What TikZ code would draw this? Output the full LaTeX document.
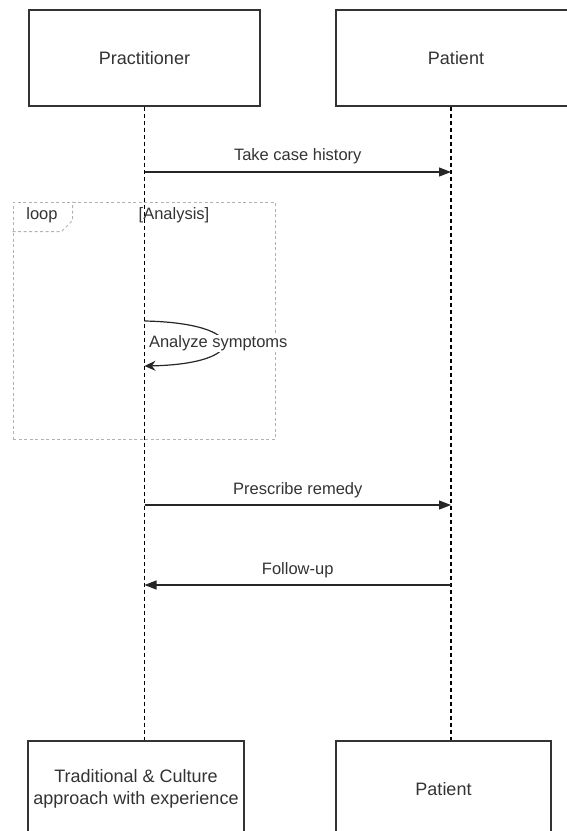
\documentclass[tikz,border=0pt]{standalone}
\usepackage{fontspec}
\setmainfont{Liberation Sans}
\usetikzlibrary{arrows.meta}
\tikzset{
    actorbox/.style={draw=black!80, line width=1.2pt, fill=white, text=black!80, align=center, font=\fontsize{18}{21.5}\selectfont},
    lifeline/.style={draw=black, line width=1.2pt, dash pattern=on 4pt off 3pt},
    msg/.style={draw=black!85, line width=1.2pt, -{Triangle[length=12pt,width=9pt]}},
    selfmsg/.style={draw=black!85, line width=1.2pt, -{Stealth[length=11pt,width=10pt]}},
    msglabel/.style={text=black!80, font=\fontsize{16.5}{19}\selectfont, inner sep=1pt},
    loopframe/.style={draw=gray!60, line width=0.9pt, dash pattern=on 3pt off 2.5pt}
}
\begin{document}
\begin{tikzpicture}[x=1pt,y=-1pt]
                    \useasboundingbox (0,0) rectangle (566,831);
                    \node[actorbox, minimum width=231pt, minimum height=96pt] (prac) at (144.5,58) {Practitioner};
                    \node[actorbox, minimum width=240pt, minimum height=96pt] (pat) at (456,58) {Patient};
                    \node[actorbox, minimum width=216pt, minimum height=96pt] (pracend) at (136,789) {Traditional \& Culture\\approach with experience};
                    \node[actorbox, minimum width=215pt, minimum height=96pt] (patend) at (443.5,789) {Patient};
                    \coordinate (pl) at ([xshift=-5pt]pat.south);
                    \draw[lifeline] (prac.south) -- (prac.south |- pracend.north);
                    \draw[lifeline] (pl) -- (pl |- patend.north);
                    \node[loopframe, minimum width=262pt, minimum height=237pt] (loop) at (144,320.5) {};
                    \draw[loopframe] ([yshift=-30pt]loop.north west) -- ++(49,0) -- ++(11,-11) -- ++(0,-19);
                    \node[msglabel] (looplabel) at (42,215) {loop};
                    \node[msglabel] (guard) at (174,215) {[Analysis]};
                    \coordinate (c1) at (prac.south |- 0,172);
                    \coordinate (c2) at (pl |- 0,172);
                    \draw[msg] (c1) -- node[msglabel, midway, above=6pt] (take) {Take case history} (c2);
                    \coordinate (s1) at (prac.south |- 0,321);
                    \coordinate (s2) at (prac.south |- 0,366);
                    \draw[selfmsg] (s1) .. controls +(105,2) and +(105,-2) .. node[msglabel, pos=0.5, xshift=-5pt, fill=white] (analyze) {Analyze symptoms} (s2);
                    \coordinate (p1) at (prac.south |- 0,505);
                    \coordinate (p2) at (pl |- 0,505);
                    \draw[msg] (p1) -- node[msglabel, midway, above=5pt] (prescribe) {Prescribe remedy} (p2);
                    \coordinate (f1) at (pl |- 0,585);
                    \coordinate (f2) at (prac.south |- 0,585);
                    \draw[msg] (f1) -- node[msglabel, midway, above=5pt] (follow) {Follow-up} (f2);
                \end{tikzpicture}
\end{document}
